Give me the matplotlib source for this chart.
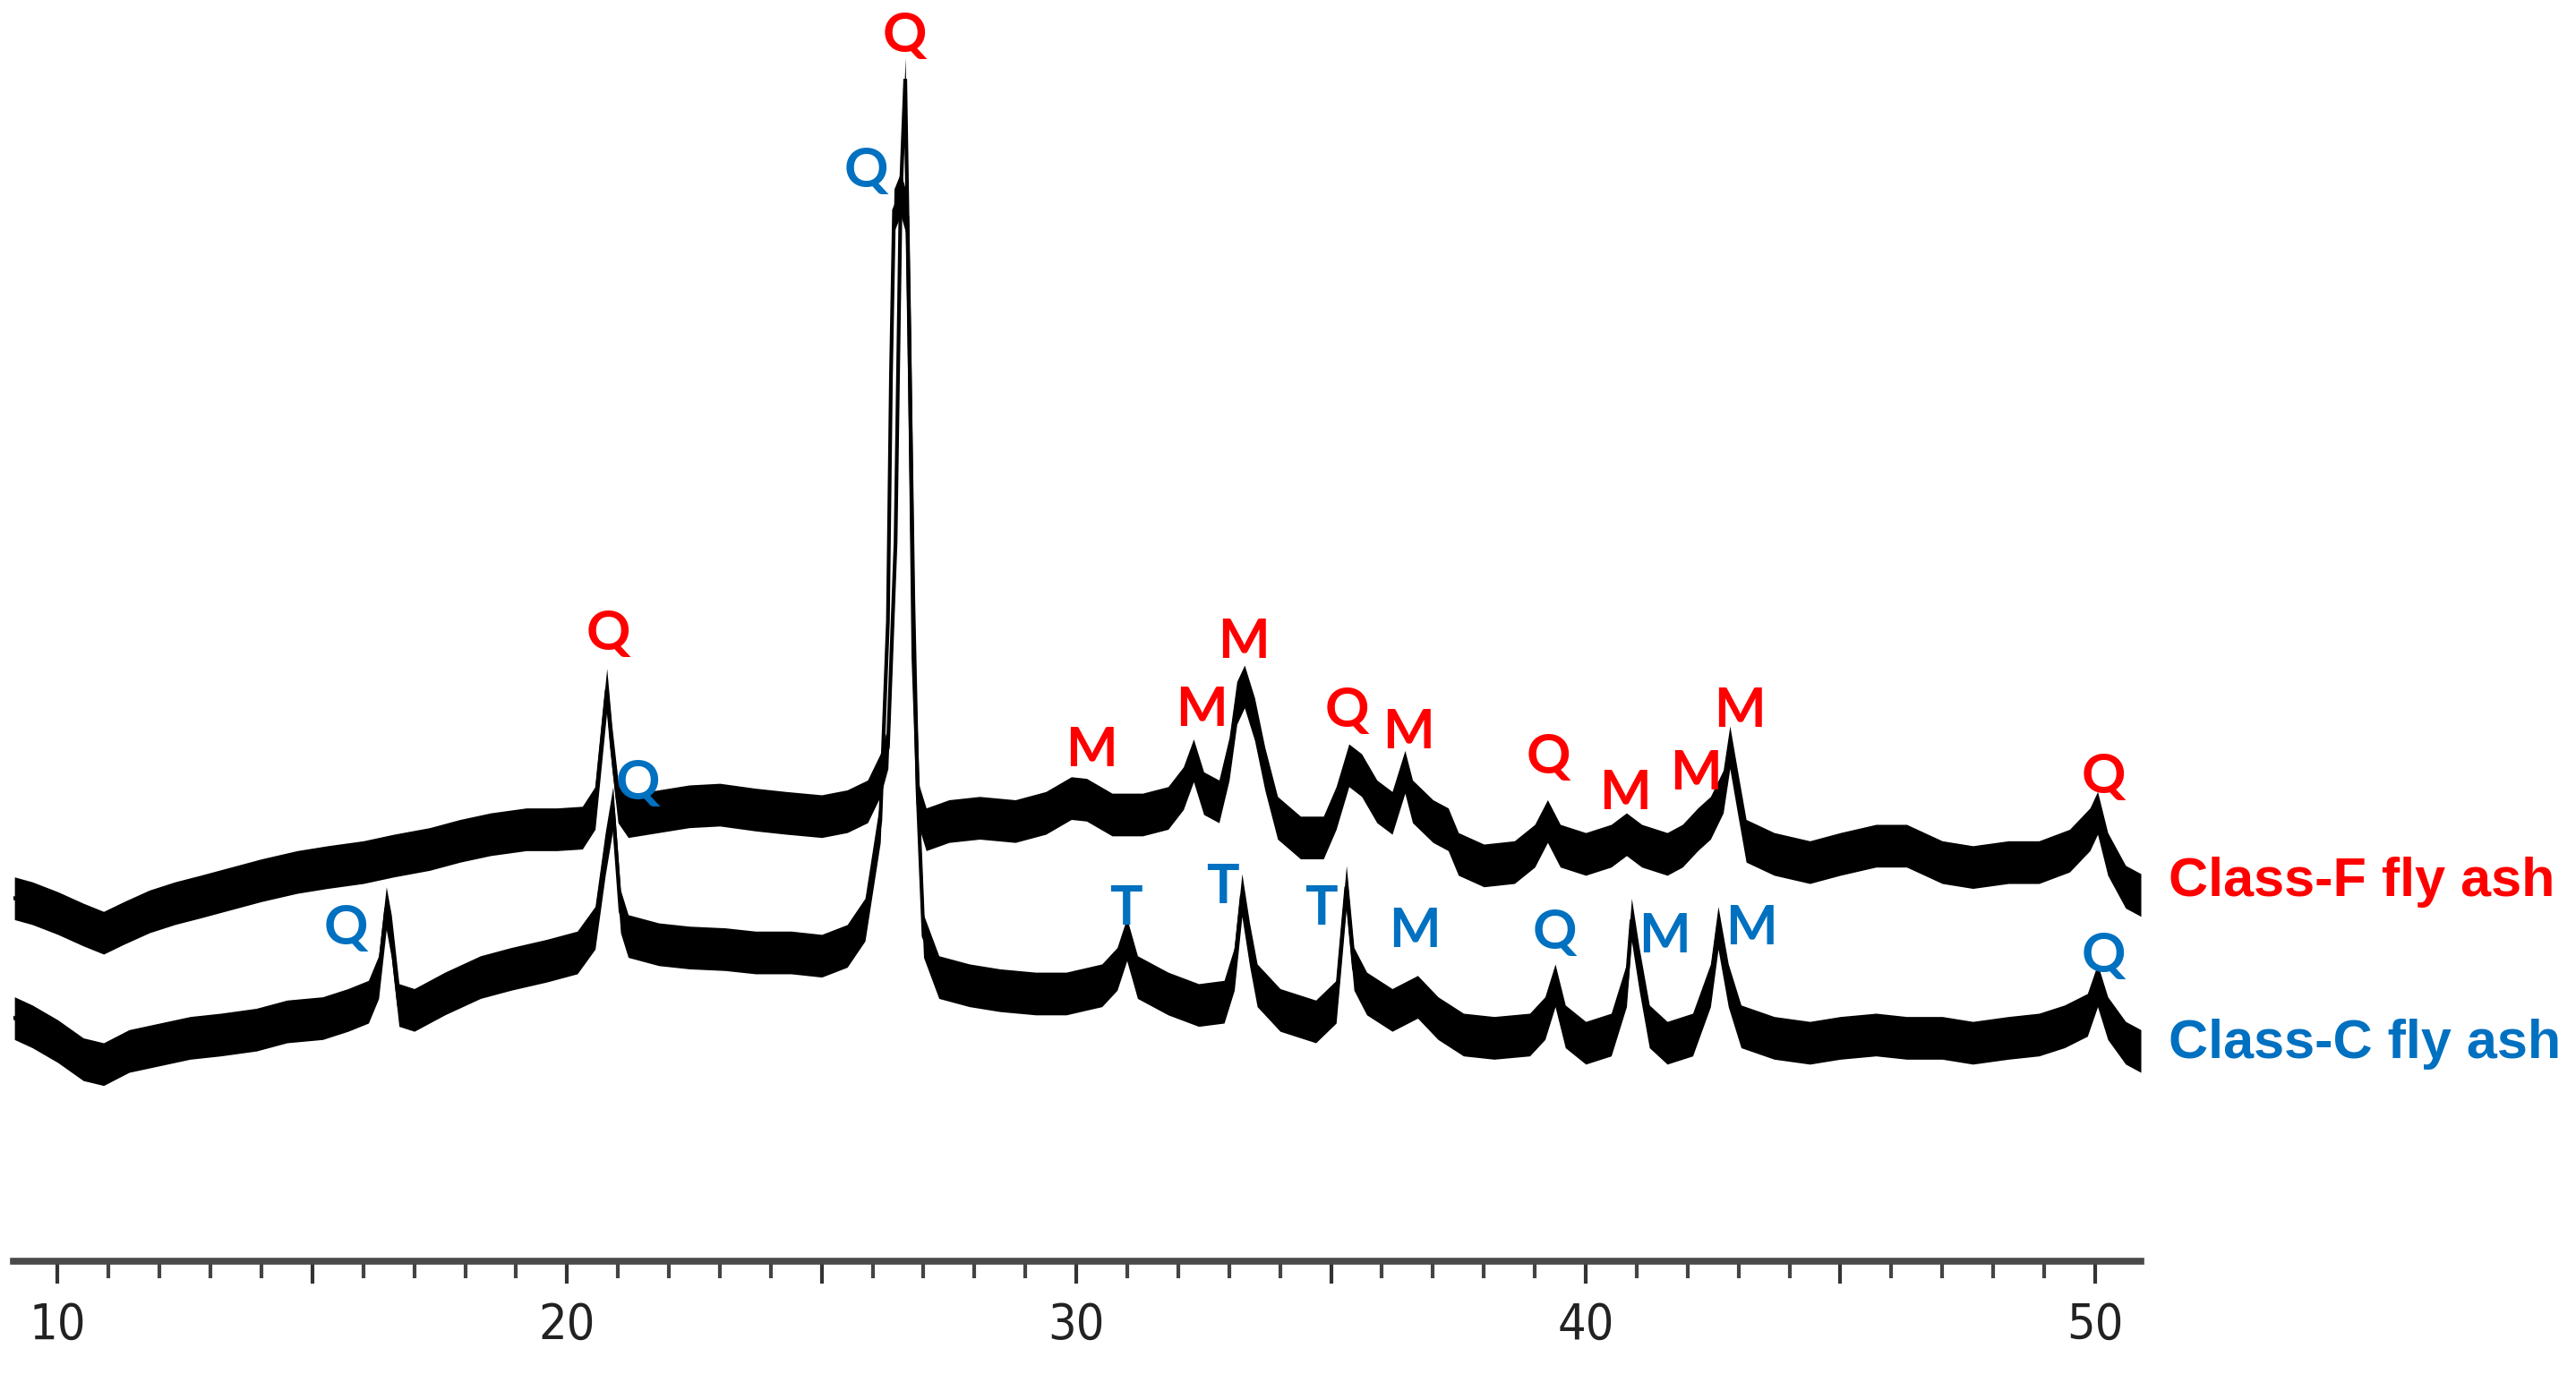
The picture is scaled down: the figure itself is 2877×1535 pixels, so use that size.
import matplotlib
matplotlib.use("Agg")
import matplotlib.pyplot as plt
from matplotlib.ticker import MultipleLocator, FuncFormatter

# ---- data (2-theta in degrees, intensity in arbitrary units) ----
f_x = [9.15, 9.5, 10.0, 10.5, 10.9, 11.3, 11.8, 12.3, 12.8, 13.4, 14.0, 14.7, 15.3, 16.0, 16.6,
       17.3, 17.9, 18.5, 19.2, 19.8, 20.3, 20.55, 20.7, 20.78, 20.88, 21.0, 21.2, 21.8, 22.4,
       23.0, 23.7, 24.3, 25.0, 25.5, 25.9, 26.15, 26.3, 26.45, 26.55, 26.64, 26.72, 26.8, 26.9,
       27.05, 27.5, 28.1, 28.8, 29.4, 29.9, 30.2, 30.7, 31.3, 31.8, 32.1, 32.3, 32.5, 32.8, 33.0,
       33.15, 33.3, 33.5, 33.7, 33.95, 34.4, 34.85, 35.1, 35.35, 35.6, 35.9, 36.2, 36.45, 36.6,
       37.0, 37.3, 37.5, 38.0, 38.6, 39.0, 39.25, 39.5, 40.0, 40.5, 40.8, 41.1, 41.6, 41.9, 42.2,
       42.45, 42.7, 42.83, 42.98, 43.15, 43.7, 44.4, 45.0, 45.7, 46.3, 47.0, 47.6, 48.3, 48.9,
       49.5, 49.9, 50.05, 50.25, 50.6, 50.9]
f_y = [221, 218, 212, 205, 200, 206, 213, 218, 222, 227, 232, 237, 240, 243, 247,
       251, 256, 260, 263, 263, 264, 276, 323, 348, 313, 280, 271, 274, 277,
       278, 275, 273, 271, 274, 280, 296, 313, 438, 648, 720, 568, 368, 278,
       263, 268, 270, 268, 273, 282, 281, 272, 272, 276, 288, 305, 285, 280, 306,
       340, 350, 330, 300, 270, 258, 258, 276, 302, 296, 280, 273, 298, 280,
       268, 263, 248, 241, 243, 253, 268, 253, 248, 253, 260, 253, 248, 253, 263,
       270, 286, 313, 286, 256, 248, 243, 248, 253, 253, 243, 240, 243, 243,
       250, 263, 273, 248, 228, 223]

c_x = [9.15, 9.5, 10.0, 10.5, 10.9, 11.4, 12.0, 12.6, 13.2, 13.9, 14.5, 15.2, 15.7, 16.1, 16.3,
       16.45, 16.55, 16.7, 17.0, 17.6, 18.3, 18.9, 19.6, 20.2, 20.55, 20.75, 20.9, 21.05, 21.2,
       21.8, 22.4, 23.1, 23.7, 24.4, 25.0, 25.5, 25.85, 26.15, 26.3, 26.36, 26.42, 26.55, 26.68,
       26.74, 26.8, 26.88, 27.0, 27.3, 27.9, 28.5, 29.2, 29.8, 30.5, 30.8, 30.99, 31.2, 31.8,
       32.4, 32.9, 33.1, 33.25, 33.4, 33.55, 34.0, 34.7, 35.1, 35.3, 35.45, 35.7, 36.2, 36.7,
       37.1, 37.6, 38.2, 38.9, 39.2, 39.4, 39.6, 40.0, 40.5, 40.8, 40.9, 41.05, 41.25, 41.6,
       42.1, 42.45, 42.6, 42.8, 43.05, 43.7, 44.4, 45.0, 45.7, 46.3, 47.0, 47.6, 48.3, 48.9,
       49.4, 49.85, 50.05, 50.25, 50.6, 50.9]
c_y = [148, 143, 134, 123, 120, 128, 132, 136, 138, 141, 146, 148, 153, 158, 173,
       215, 198, 156, 153, 163, 173, 178, 183, 188, 203, 248, 276, 213, 198,
       193, 191, 190, 188, 188, 186, 192, 208, 268, 390, 540, 640, 650, 636,
       520, 400, 288, 198, 173, 168, 165, 163, 163, 168, 178, 196, 173, 163,
       156, 158, 178, 223, 193, 168, 153, 146, 158, 228, 178, 163, 153, 161,
       148, 138, 136, 138, 148, 168, 143, 133, 138, 168, 208, 178, 143, 133,
       138, 168, 203, 168, 143, 136, 133, 136, 138, 136, 136, 133, 136, 138,
       143, 150, 168, 148, 133, 128]

x_ticks_labeled = [10, 20, 30, 40, 50]

# peak labels: (2theta, intensity, text)
f_labels = [(26.63, 746, "Q"), (20.81, 382, "Q"), (30.29, 311, "M"), (32.45, 336, "M"),
            (33.29, 377, "M"), (35.32, 335, "Q"), (36.52, 322, "M"), (39.26, 307, "Q"),
            (40.77, 285, "M"), (42.16, 297, "M"), (43.03, 335, "M"), (50.16, 295, "Q")]
c_labels = [(15.65, 203, "Q"), (21.39, 291, "Q"), (25.87, 664, "Q"), (30.97, 215, "T"),
            (32.87, 228, "T"), (34.81, 215, "T"), (36.65, 201, "M"), (39.39, 200, "Q"),
            (41.55, 198, "M"), (43.26, 203, "M"), (50.16, 186, "Q")]

series_names = ["Class-F fly ash", "Class-C fly ash"]
series_label_y = [231, 132]

RED = "#FF0000"
BLUE = "#0070C0"

fig = plt.figure(figsize=(28.77, 15.35), dpi=100)
ax = fig.add_axes([15 / 2877, 126 / 1535, 2376 / 2877, 1409 / 1535])
ax.set_xlim(9.13, 50.9)
ax.set_ylim(0, 768)

band = 13
for xs, ys in ((f_x, f_y), (c_x, c_y)):
    lo = [v - band for v in ys]
    hi = [v + band for v in ys]
    ax.fill_between(xs, lo, hi, color="black", linewidth=0)
    ax.plot(xs, ys, color="black", linewidth=3, solid_joinstyle="miter")

lab_font = dict(family=["Lato", "DejaVu Sans"], fontweight="bold", fontsize=44,
                ha="center", va="center")
for x, y, t in f_labels:
    ax.text(x, y, t, color=RED, **lab_font)
for x, y, t in c_labels:
    ax.text(x, y, t, color=BLUE, **lab_font)

for name, yy, col in zip(series_names, series_label_y, (RED, BLUE)):
    ax.text(51.45, yy, name, color=col, family=["Liberation Sans", "DejaVu Sans"],
            fontweight="bold", fontsize=44, ha="left", va="center", clip_on=False)

for s in ("top", "left", "right"):
    ax.spines[s].set_visible(False)
ax.spines["bottom"].set_linewidth(5.5)
ax.spines["bottom"].set_color("#4a4a4a")
ax.set_yticks([])
ax.xaxis.set_major_locator(MultipleLocator(5))
ax.xaxis.set_minor_locator(MultipleLocator(1))
ax.xaxis.set_major_formatter(FuncFormatter(lambda v, p: f"{int(round(v))}" if int(round(v)) in x_ticks_labeled else ""))
ax.tick_params(axis="x", which="major", length=18, width=3, color="#333333", pad=14,
               labelsize=40, labelcolor="#222222")
ax.tick_params(axis="x", which="minor", length=14, width=3, color="#444444")
for lab in ax.get_xticklabels():
    lab.set_fontstretch("condensed")
    lab.set_family(["DejaVu Sans"])

fig.savefig("out.png", dpi=100, facecolor="white")
